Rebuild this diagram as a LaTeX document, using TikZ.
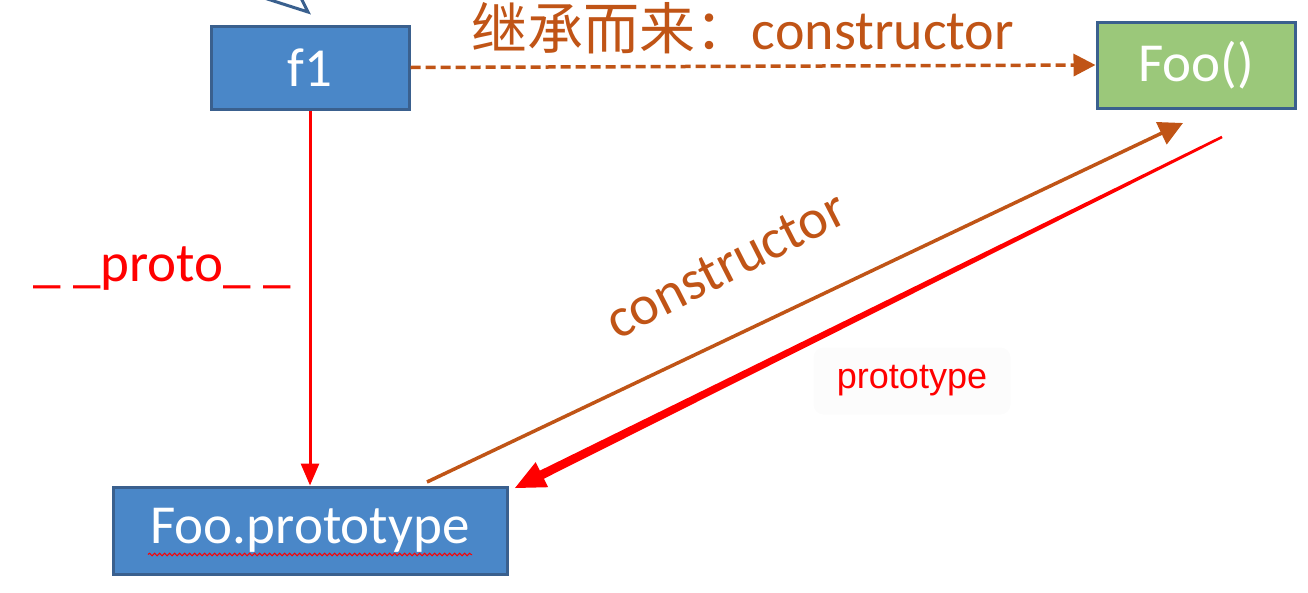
\documentclass[tikz,border=0pt]{standalone}
\usepackage{fontspec}
\setmainfont{Carlito}
\newfontfamily\cjk{Noto Sans CJK SC}
\newfontfamily\arialf{Liberation Sans}
\usetikzlibrary{arrows.meta,calc,decorations.pathmorphing}
\definecolor{boxblue}{RGB}{74,135,200}
\definecolor{boxborder}{RGB}{58,96,142}
\definecolor{boxgreen}{RGB}{155,200,122}
\definecolor{orangec}{RGB}{192,84,22}
\definecolor{redc}{RGB}{255,0,0}
\definecolor{labelbg}{RGB}{252,252,252}
\tikzset{
  box/.style={draw=boxborder, line width=3pt, text=white, inner sep=0pt,
    font=\fontsize{55}{60}\selectfont},
  orangelabel/.style={text=orangec, inner sep=0pt, font=\fontsize{56}{60}\selectfont},
  redlabel/.style={text=redc, inner sep=0pt, font=\fontsize{55}{60}\selectfont},
}
\begin{document}
\begin{tikzpicture}[x=1pt,y=-1pt]
\useasboundingbox (0,0) rectangle (1308,592);
% callout pointer fragment
\draw[line width=3pt, draw=boxborder, fill=white, line join=miter] (258,-4) -- (308,12) -- (300,-4);
% boxes
\node[box, fill=boxblue, minimum width=198pt, minimum height=83pt] (f1) at (310,67.5) {f1};
\node[box, fill=boxgreen, minimum width=198pt, minimum height=86pt] (foo) at (1196,65) {Foo()};
\node[box, fill=boxblue, minimum width=394pt, minimum height=87pt] (fp) at (310,530.5) {Foo.prototype};
% spell-check wavy underline
\coordinate (u1) at ($(fp.center)+(-162,24)$);
\coordinate (u2) at ($(fp.center)+(162,24)$);
\draw[redc, line width=1pt, decorate, decoration={snake, amplitude=1.3pt, segment length=5pt}] (u1) -- (u2);
% dashed inheritance arrow
\draw[orangec, line width=3.5pt, dash pattern=on 10pt off 5pt, -{Triangle[length=22pt,width=22pt]}] (f1.east) -- (foo.west);
\node[orangelabel] (lbl1) at (743,28) {{\cjk 继承而来：}constructor};
% __proto__ arrow
\draw[redc, line width=3pt, -{Triangle[length=22pt,width=18pt]}] (f1.south) -- (fp.north);
\node[redlabel] (lbl2) at (162,269) {\_ \_proto\_ \_};
% constructor arrow
\coordinate (c1) at (427,482);
\coordinate (c2) at (1183,123);
\draw[orangec, line width=3.5pt, -{Triangle[length=24pt,width=24pt]}] (c1) -- (c2);
\node[orangelabel, rotate=27] (lbl3) at (726,265) {constructor};
% prototype tapered arrow
\coordinate (S) at (1222,137);
\coordinate (T) at (515,488);
\coordinate (H) at ($(T)!30pt!(S)$);
\fill[redc] ($(S)!1.3pt!90:(T)$) -- ($(H)!4.5pt!90:(T)$) -- ($(H)!14pt!90:(T)$) -- (T)
  -- ($(H)!14pt!-90:(T)$) -- ($(H)!4.5pt!-90:(T)$) -- ($(S)!1.3pt!-90:(T)$) -- cycle;
\node[fill=labelbg, rounded corners=10pt, minimum width=197pt, minimum height=67pt, inner sep=0pt,
  text=redc, font=\arialf\fontsize{36}{40}\selectfont] (lbl4) at (912,381) {prototype};
\end{tikzpicture}
\end{document}
